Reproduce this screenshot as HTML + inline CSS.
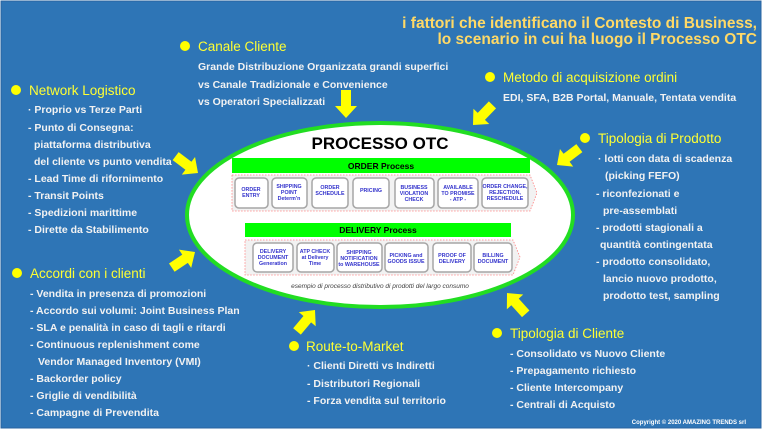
<!DOCTYPE html>
<html><head><meta charset="utf-8"><style>
html,body{margin:0;padding:0;background:#fff;}
svg{display:block;}
text{font-family:"Liberation Sans",sans-serif;}
.h{fill:#ffff33;font-size:13.5px;}
.t{fill:#f2f2f2;font-size:10.5px;font-weight:bold;}
.b{fill:#3333cc;font-size:5.3px;font-weight:bold;text-anchor:middle;}
.box{fill:#fff;stroke:#a6a6a6;stroke-width:1.5;}
</style></head><body>
<svg width="768" height="440" viewBox="0 0 768 440">
<defs>
<polygon id="ar" points="-28,-5 -12,-5 -12,-11 0,0 -12,11 -12,5 -28,5" fill="#ffff00"/>
</defs>
<rect x="1" y="1" width="760" height="427" fill="#2e75b6" stroke="#2a64a0" stroke-width="1"/>
<!-- title -->
<text x="757" y="28" text-anchor="end" fill="#ffd966" font-size="15.5" font-weight="bold">i fattori che identificano il Contesto di Business,</text>
<text x="757" y="44" text-anchor="end" fill="#ffd966" font-size="15.5" font-weight="bold">lo scenario in cui ha luogo il Processo OTC</text>

<!-- Canale Cliente -->
<circle cx="185" cy="46" r="5" fill="#ffff00"/>
<text class="h" x="198" y="51">Canale Cliente</text>
<text class="t" x="198" y="70">Grande Distribuzione Organizzata grandi superfici</text>
<text class="t" x="198" y="88">vs Canale Tradizionale e Convenience</text>
<text class="t" x="198" y="105">vs Operatori Specializzati</text>

<!-- Metodo -->
<circle cx="490" cy="77" r="5" fill="#ffff00"/>
<text class="h" x="503" y="82">Metodo di acquisizione ordini</text>
<text class="t" x="503" y="101">EDI, SFA, B2B Portal, Manuale, Tentata vendita</text>

<!-- Network -->
<circle cx="16" cy="90" r="5" fill="#ffff00"/>
<text class="h" x="29" y="95">Network Logistico</text>
<text class="t" x="28" y="113">· Proprio vs Terze Parti</text>
<text class="t" x="28" y="131">- Punto di Consegna:</text>
<text class="t" x="34" y="148">piattaforma distributiva</text>
<text class="t" x="34" y="165">del cliente vs punto vendita</text>
<text class="t" x="28" y="182">- Lead Time di rifornimento</text>
<text class="t" x="28" y="199">- Transit Points</text>
<text class="t" x="28" y="216">- Spedizioni marittime</text>
<text class="t" x="28" y="233">- Dirette da Stabilimento</text>

<!-- Accordi -->
<circle cx="17" cy="273" r="5" fill="#ffff00"/>
<text class="h" x="30" y="278">Accordi con i clienti</text>
<text class="t" x="30" y="297">- Vendita in presenza di promozioni</text>
<text class="t" x="30" y="314">- Accordo sui volumi: Joint Business Plan</text>
<text class="t" x="30" y="331">- SLA e penalità in caso di tagli e ritardi</text>
<text class="t" x="30" y="348">- Continuous replenishment come</text>
<text class="t" x="38" y="365">Vendor Managed Inventory (VMI)</text>
<text class="t" x="30" y="382">- Backorder policy</text>
<text class="t" x="30" y="399">- Griglie di vendibilità</text>
<text class="t" x="30" y="416">- Campagne di Prevendita</text>

<!-- Tipologia Prodotto -->
<circle cx="585" cy="138" r="5" fill="#ffff00"/>
<text class="h" x="598" y="143">Tipologia di Prodotto</text>
<text class="t" x="598" y="162">· lotti con data di scadenza</text>
<text class="t" x="605" y="179">(picking  FEFO)</text>
<text class="t" x="596" y="197">- riconfezionati e</text>
<text class="t" x="603" y="214">pre-assemblati</text>
<text class="t" x="596" y="231">- prodotti stagionali a</text>
<text class="t" x="600" y="248">quantità contingentata</text>
<text class="t" x="596" y="265">- prodotto consolidato,</text>
<text class="t" x="603" y="282">lancio nuovo prodotto,</text>
<text class="t" x="603" y="299">prodotto test, sampling</text>

<!-- Route -->
<circle cx="294" cy="346" r="5" fill="#ffff00"/>
<text class="h" x="306" y="351">Route-to-Market</text>
<text class="t" x="307" y="369">· Clienti Diretti vs Indiretti</text>
<text class="t" x="307" y="387">- Distributori Regionali</text>
<text class="t" x="307" y="404">- Forza vendita sul territorio</text>

<!-- Tipologia Cliente -->
<circle cx="497" cy="333" r="5" fill="#ffff00"/>
<text class="h" x="510" y="338">Tipologia di Cliente</text>
<text class="t" x="510" y="357">- Consolidato vs Nuovo Cliente</text>
<text class="t" x="510" y="374">- Prepagamento richiesto</text>
<text class="t" x="510" y="391">- Cliente Intercompany</text>
<text class="t" x="510" y="408">- Centrali di Acquisto</text>

<text x="746" y="424" text-anchor="end" fill="#fff" font-size="6" font-weight="bold">Copyright © 2020 AMAZING TRENDS srl</text>

<!-- arrows -->
<use href="#ar" transform="translate(346,118) rotate(90)"/>
<use href="#ar" transform="translate(473,125) rotate(134)"/>
<use href="#ar" transform="translate(557,165) rotate(143)"/>
<use href="#ar" transform="translate(198,173) rotate(37)"/>
<use href="#ar" transform="translate(195,252) rotate(-34)"/>
<use href="#ar" transform="translate(315,310) rotate(-50)"/>
<use href="#ar" transform="translate(507,293) rotate(-132)"/>

<!-- ellipse -->
<ellipse cx="380" cy="215" rx="193" ry="92" fill="#fff" stroke="#22dd22" stroke-width="4"/>
<text x="380" y="149" text-anchor="middle" font-size="17" font-weight="bold" fill="#000">PROCESSO OTC</text>

<rect x="232" y="158" width="298" height="15" fill="#00ff00"/>
<text x="381" y="169" text-anchor="middle" font-size="8.5" font-weight="bold" fill="#000">ORDER Process</text>
<polygon points="232,175 530,175 537,193 530,211 232,211" fill="#f2f2f2" stroke="#ff8080" stroke-width="0.8" stroke-dasharray="1.5,1.5"/>
<rect class="box" x="235" y="178" width="33" height="30" rx="4"/>
<rect class="box" x="272" y="178" width="35" height="30" rx="4"/>
<rect class="box" x="312" y="178" width="36" height="30" rx="4"/>
<rect class="box" x="353" y="178" width="36" height="30" rx="4"/>
<rect class="box" x="395" y="178" width="39" height="30" rx="4"/>
<rect class="box" x="438" y="178" width="40" height="30" rx="4"/>
<rect class="box" x="482" y="178" width="46" height="30" rx="4"/>
<text class="b" x="251" y="191">ORDER</text><text class="b" x="251" y="197">ENTRY</text>
<text class="b" x="289" y="188">SHIPPING</text><text class="b" x="289" y="194">POINT</text><text class="b" x="289" y="200">Determ'n</text>
<text class="b" x="330" y="189">ORDER</text><text class="b" x="330" y="195">SCHEDULE</text>
<text class="b" x="371" y="192">PRICING</text>
<text class="b" x="414" y="189">BUSINESS</text><text class="b" x="414" y="195">VIOLATION</text><text class="b" x="414" y="201">CHECK</text>
<text class="b" x="458" y="189">AVAILABLE</text><text class="b" x="458" y="195">TO PROMISE</text><text class="b" x="458" y="201">-  ATP  -</text>
<text class="b" x="505" y="188">ORDER CHANGE,</text><text class="b" x="505" y="194">REJECTION,</text><text class="b" x="505" y="200">RESCHEDULE</text>

<rect x="245" y="223" width="266" height="14" fill="#00ff00"/>
<text x="378" y="233" text-anchor="middle" font-size="8.5" font-weight="bold" fill="#000">DELIVERY Process</text>
<polygon points="245,240 513,240 520,257 513,275 245,275" fill="#f2f2f2" stroke="#ff8080" stroke-width="0.8" stroke-dasharray="1.5,1.5"/>
<rect class="box" x="253" y="243" width="40" height="29" rx="4"/>
<rect class="box" x="297" y="243" width="37" height="29" rx="4"/>
<rect class="box" x="337" y="243" width="45" height="29" rx="4"/>
<rect class="box" x="385" y="243" width="43" height="29" rx="4"/>
<rect class="box" x="433" y="243" width="38" height="29" rx="4"/>
<rect class="box" x="474" y="243" width="38" height="29" rx="4"/>
<text class="b" x="273" y="253">DELIVERY</text><text class="b" x="273" y="259">DOCUMENT</text><text class="b" x="273" y="265">Generation</text>
<text class="b" x="315" y="253">ATP CHECK</text><text class="b" x="315" y="259">at Delivery</text><text class="b" x="315" y="265">Time</text>
<text class="b" x="359" y="254">SHIPPING</text><text class="b" x="359" y="260">NOTIFICATION</text><text class="b" x="359" y="266">to WAREHOUSE</text>
<text class="b" x="406" y="257">PICKING and</text><text class="b" x="406" y="263">GOODS ISSUE</text>
<text class="b" x="452" y="257">PROOF OF</text><text class="b" x="452" y="263">DELIVERY</text>
<text class="b" x="493" y="257">BILLING</text><text class="b" x="493" y="263">DOCUMENT</text>

<text x="380" y="288" text-anchor="middle" font-size="6.5" font-style="italic" fill="#404040">esempio di processo distributivo di prodotti del largo consumo</text>
</svg>
</body></html>
